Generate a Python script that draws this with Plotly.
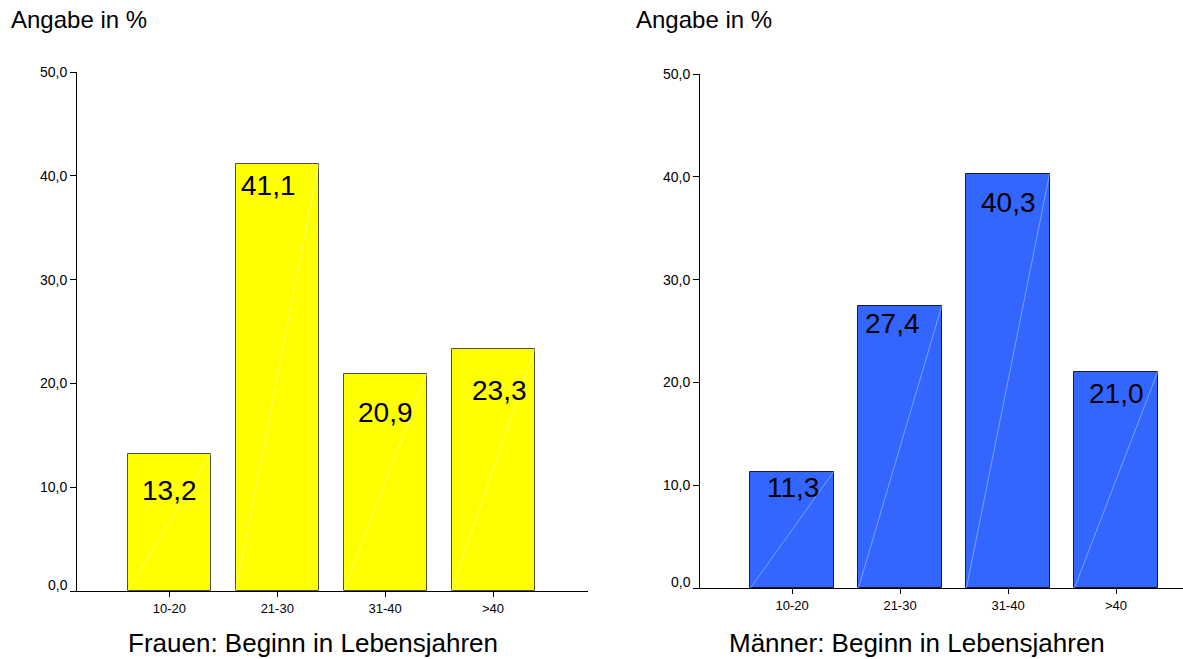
import plotly.graph_objects as go

# Age at onset, share in percent
age_groups = ["10-20", "21-30", "31-40", ">40"]
frauen_pct = [13.2, 41.1, 20.9, 23.3]
maenner_pct = [11.3, 27.4, 40.3, 21.0]
y_ticks = [0, 10, 20, 30, 40, 50]

# Label placement inside the bars (category offset, pixels below bar top)
frauen_label_dx = [0.0, -0.08, 0.0, 0.06]
frauen_label_drop = [37, 21, 38, 41]
maenner_label_dx = [0.01, -0.07, 0.0, 0.0]
maenner_label_drop = [16, 17, 29, 21]

W, H = 1183, 659
FONT = "Arial, Liberation Sans, sans-serif"
BAR_W = 0.77


def py(px_from_top):
    """Pixel row (from the top) -> paper y fraction."""
    return 1 - px_from_top / H


def fmt(v):
    return f"{v:.1f}".replace(".", ",")


fig = go.Figure()

panels = [
    dict(vals=frauen_pct, color="#FFFF00", edge="#4d4d4d", diag="rgba(255,255,255,0.4)",
         xa="x", ya="y", dx=frauen_label_dx, drop=frauen_label_drop),
    dict(vals=maenner_pct, color="#3366FF", edge="#1a1a40", diag="rgba(200,215,255,0.5)",
         xa="x2", ya="y2", dx=maenner_label_dx, drop=maenner_label_drop),
]

idx = list(range(len(age_groups)))
annotations = []
for p in panels:
    fig.add_trace(go.Bar(
        x=idx, y=p["vals"], width=BAR_W,
        marker=dict(color=p["color"], line=dict(color=p["edge"], width=1)),
        xaxis=p["xa"], yaxis=p["ya"], showlegend=False, hoverinfo="skip",
    ))
    # faint diagonal sheen across each bar
    for i, v in zip(idx, p["vals"]):
        fig.add_trace(go.Scatter(
            x=[i - BAR_W / 2, i + BAR_W / 2], y=[0, v], mode="lines",
            line=dict(color=p["diag"], width=1),
            xaxis=p["xa"], yaxis=p["ya"], showlegend=False, hoverinfo="skip",
        ))
    for i, v in zip(idx, p["vals"]):
        annotations.append(dict(
            x=i + p["dx"][i], y=v, xref=p["xa"], yref=p["ya"],
            text=fmt(v), showarrow=False,
            yanchor="middle", yshift=-p["drop"][i],
            font=dict(family=FONT, size=28, color="black"),
        ))
    # the zero label sits slightly above its tick
    annotations.append(dict(
        x=0, y=y_ticks[0], xref=p["xa"] + " domain", yref=p["ya"],
        text=fmt(y_ticks[0]), showarrow=False, xanchor="right", yanchor="middle",
        xshift=-8, yshift=6, borderpad=0,
        font=dict(family=FONT, size=14, color="black"),
    ))

# axis headings and panel titles
for px, txt in [(9, "Angabe in %"), (634, "Angabe in %")]:
    annotations.append(dict(x=px / W, y=py(20), xref="paper", yref="paper",
                            xanchor="left", yanchor="middle", text=txt, showarrow=False,
                            font=dict(family=FONT, size=24, color="black")))
for px, txt in [(313, "Frauen: Beginn in Lebensjahren"), (917, "Männer: Beginn in Lebensjahren")]:
    annotations.append(dict(x=px / W, y=py(643), xref="paper", yref="paper",
                            xanchor="center", yanchor="middle", text=txt, showarrow=False,
                            font=dict(family=FONT, size=26, color="black")))

xcommon = dict(tickmode="array", tickvals=idx, ticktext=age_groups, showline=True,
               linecolor="black", linewidth=1, ticks="outside", ticklen=5, tickcolor="black",
               showgrid=False, zeroline=False, automargin=False,
               tickfont=dict(family=FONT, size=13, color="black"))
ycommon = dict(range=[0, 50], tickmode="array", tickvals=y_ticks,
               ticktext=[""] + [fmt(t) for t in y_ticks[1:]],
               showline=True, linecolor="black", linewidth=1, ticks="outside", ticklen=6,
               tickcolor="black", showgrid=False, zeroline=False, automargin=False,
               tickfont=dict(family=FONT, size=14, color="black"))

fig.update_layout(
    width=W, height=H, autosize=False,
    margin=dict(l=0, r=0, t=0, b=0, autoexpand=False),
    paper_bgcolor="white", plot_bgcolor="white",
    bargap=0,
    xaxis=dict(xcommon, domain=[77 / W, 588 / W], range=[-0.856, 3.88], anchor="y"),
    yaxis=dict(ycommon, domain=[py(591), py(72)], anchor="x"),
    xaxis2=dict(xcommon, domain=[700 / W, 1.0], range=[-0.852, 3.62], anchor="y2"),
    yaxis2=dict(ycommon, domain=[py(588), py(74)], anchor="x2"),
    annotations=annotations,
)

fig.write_html("out.html")
